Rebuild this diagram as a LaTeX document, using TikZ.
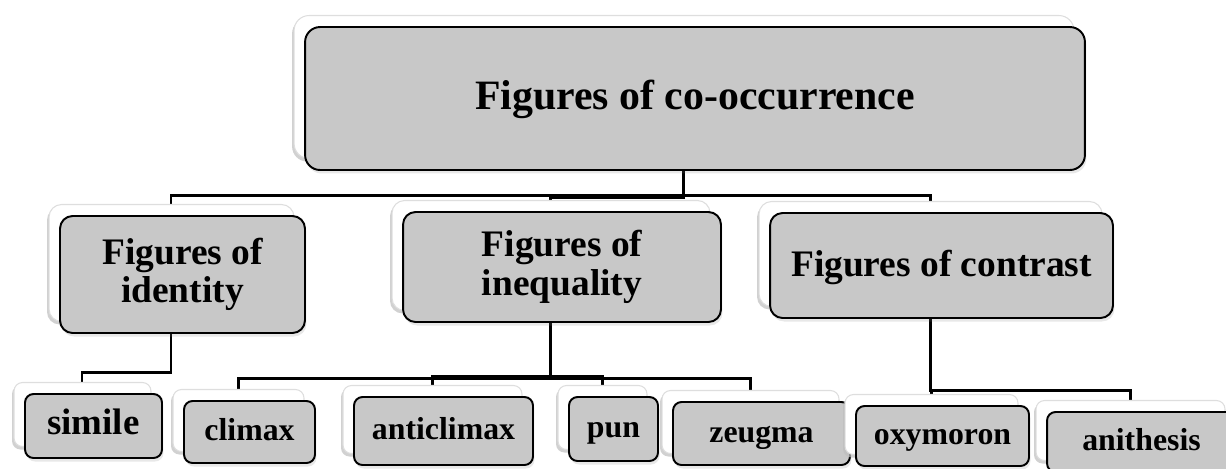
\documentclass[tikz,border=0pt]{standalone}
\usepackage{fontspec}
\setmainfont{Liberation Serif}
\usepackage{xcolor}
\usepackage{tikz}
\usetikzlibrary{shadows, backgrounds}
\definecolor{boxgray}{RGB}{200,200,200}
\definecolor{cardedge}{RGB}{190,190,190}
\definecolor{cardline}{RGB}{222,222,222}

\tikzset{
    card/.style={draw=black, line width=1.1pt, fill=boxgray, align=center, inner sep=2pt,
        copy shadow={shadow xshift=-0.26cm, shadow yshift=0.17cm, fill=cardedge, draw=none, opacity=0.7},
        copy shadow={shadow xshift=-0.22cm, shadow yshift=0.23cm, fill=white, draw=cardline, line width=0.6pt},
        drop shadow={shadow xshift=0.03cm, shadow yshift=-0.07cm, opacity=0.18}},
    headbox/.style={card, rounded corners=0.3cm, text height=16.2pt, text depth=3.2pt,
        font=\bfseries\fontsize{23.8}{26}\selectfont},
    midbox/.style={card, rounded corners=0.25cm, font=\bfseries\fontsize{21.3}{22}\selectfont},
    leafbox/.style={card, rounded corners=0.17cm, text height=12.3pt, text depth=2.1pt,
        font=\bfseries\fontsize{18.1}{20}\selectfont},
    link/.style={draw=black, line width=1.7pt}
}

\begin{document}
\begin{tikzpicture}[x=0.02cm, y=-0.02cm]
    \useasboundingbox (0,0) rectangle (1226,468);
    \node[headbox, minimum width=15.6cm, minimum height=2.86cm] (cooc) at (695,98.5) {Figures of co-occurrence};
    \node[midbox, minimum width=4.9cm, minimum height=2.34cm] (ident) at (182.5,274.5) {Figures of\\identity};
    \node[midbox, minimum width=6.36cm, minimum height=2.2cm] (ineq) at (562,267) {Figures of\\inequality};
    \node[midbox, text height=14.5pt, text depth=1.5pt, minimum width=6.86cm, minimum height=2.1cm] (contr) at (941.5,265.5) {Figures of contrast};
    \node[leafbox, font=\bfseries\fontsize{21}{22}\selectfont, minimum width=2.74cm, minimum height=1.28cm] (simile) at (93.5,426) {simile};
    \node[leafbox, minimum width=2.62cm, minimum height=1.24cm] (climax) at (249.5,432) {climax};
    \node[leafbox, minimum width=3.58cm, minimum height=1.36cm] (anticl) at (443.5,431) {anticlimax};
    \node[leafbox, minimum width=1.78cm, minimum height=1.28cm] (pun) at (613.5,429) {pun};
    \node[leafbox, minimum width=3.54cm, minimum height=1.26cm] (zeugma) at (761.5,433.5) {zeugma};
    \node[leafbox, minimum width=3.46cm, minimum height=1.2cm] (oxym) at (942.5,436) {oxymoron};
    \node[leafbox, minimum width=3.78cm, minimum height=1.2cm] (anith) at (1141.5,442) {anithesis};

    \begin{pgfonlayer}{background}
        \draw[link] ([xshift=-0.23cm]cooc.south) -- ++(0,25) -| ([xshift=-0.23cm]ident.north);
        \draw[link] ([xshift=-0.23cm]cooc.south) -- ++(0,27) -| ([xshift=-0.23cm]ineq.north);
        \draw[link] ([xshift=-0.23cm]cooc.south) -- ++(0,25) -| ([xshift=-0.23cm]contr.north);
        \draw[link] ([xshift=-0.23cm]ident.south) -- ++(0,39) -| ([xshift=-0.23cm]simile.north);
        \draw[link] ([xshift=-0.23cm]ineq.south) -- ++(0,56) -| ([xshift=-0.23cm]climax.north);
        \draw[link] ([xshift=-0.23cm]ineq.south) -- ++(0,54) -| ([xshift=-0.23cm]anticl.north);
        \draw[link] ([xshift=-0.23cm]ineq.south) -- ++(0,54) -| ([xshift=-0.23cm]pun.north);
        \draw[link] ([xshift=-0.23cm]ineq.south) -- ++(0,56) -| ([xshift=-0.23cm]zeugma.north);
        \draw[link] ([xshift=-0.23cm]contr.south) -- ++(0,72) -| ([xshift=-0.23cm]oxym.north);
        \draw[link] ([xshift=-0.23cm]contr.south) -- ++(0,72) -| ([xshift=-0.23cm]anith.north);
    \end{pgfonlayer}
\end{tikzpicture}
\end{document}
